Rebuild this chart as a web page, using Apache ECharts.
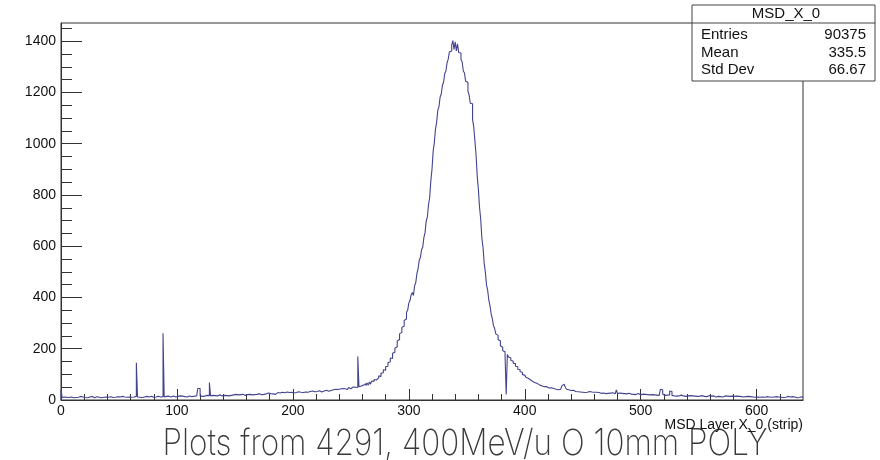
<!DOCTYPE html>
<html><head><meta charset="utf-8">
<script src="https://cdn.jsdelivr.net/npm/echarts@6/dist/echarts.min.js"></script>
<style>html,body{margin:0;padding:0;background:#fff}#c{width:880px;height:460px}</style>
</head><body><div id="c"></div>
<script>
// ---- data: counts per strip (bin width 1, strips 0..639) ----
const xMin = 0, xMax = 640, yMax = 1471;
const countsA = [ // strips 0-199
 40,10,12,9,11,13,10,8,12,11,9,13,10,12,11,9,14,10,12,11,
 10,13,9,11,12,10,14,11,9,12,13,10,11,12,9,13,11,10,12,14,
 11,9,13,12,10,14,11,12,13,10,12,11,14,10,12,13,11,9,12,14,
 11,13,12,10,14,145,12,11,13,10,15,12,11,14,13,12,10,15,13,11,
 14,12,13,15,11,12,14,13,260,12,14,11,15,13,12,14,16,13,12,15,
 14,13,16,12,15,14,13,17,12,15,16,14,13,17,15,14,16,18,45,45,
 16,14,17,15,16,18,14,17,68,16,18,15,17,19,16,18,20,17,16,19,
 18,20,17,19,16,21,18,17,20,19,22,18,20,17,21,19,22,20,18,23,
 21,19,22,24,20,23,21,25,22,20,24,23,21,26,22,25,24,21,27,23,
 25,27,24,28,22,26,29,25,27,24,30,26,28,25,31,27,29,26,30,28
];
const countsB = [ // strips 200-399
 27,31,29,26,32,28,30,33,29,27,31,34,30,28,33,31,35,29,32,34,
 33,30,36,34,31,37,35,33,38,36,34,39,37,35,40,38,42,36,41,39,
 43,40,45,42,44,47,41,46,49,44,48,51,46,50,53,49,170,52,55,50,
 58,52,64,56,66,58,70,62,74,72,80,78,84,86,94,92,104,106,118,116,
 130,132,146,148,164,162,182,186,202,208,230,236,258,264,284,288,310,316,342,350,
 378,388,410,420,408,446,458,494,512,546,556,586,596,634,654,698,714,762,790,856,
 900,970,1004,1056,1084,1130,1144,1182,1194,1228,1240,1274,1284,1316,1330,1358,1362,1386,1402,1368,
 1398,1362,1390,1356,1354,1328,1320,1284,1276,1244,1240,1204,1190,1158,1156,1094,1066,1012,956,874,
 822,752,706,632,596,534,500,450,428,390,368,336,318,290,280,258,252,236,230,212,
 206,192,188,174,22,178,168,164,154,152,144,142,132,130,120,118,110,108,99,97
];
const countsC = [ // strips 400-639
 93,89,85,82,78,76,72,70,67,66,64,60,58,57,55,53,52,50,52,48,
 47,46,48,44,45,43,42,44,40,46,42,48,55,62,66,50,42,40,38,37,
 36,38,34,33,35,32,34,31,33,30,35,29,32,30,28,33,29,31,28,30,
 28,30,27,29,31,26,28,27,30,25,28,26,29,27,25,28,26,24,27,39,
 25,27,24,26,23,25,27,24,22,26,24,23,25,22,24,21,23,25,22,20,
 21,23,20,22,19,21,24,20,18,21,19,20,17,19,21,18,25,42,40,22,
 18,17,19,16,20,35,33,18,16,17,15,18,16,17,19,15,16,18,14,17,
 16,15,17,14,16,18,15,17,14,16,15,13,17,15,14,16,13,15,17,14,
 15,13,16,14,12,15,14,16,13,15,12,14,16,13,15,12,14,13,15,12,
 14,13,15,12,14,11,13,15,12,14,13,11,14,12,13,15,12,14,11,13,
 12,14,11,13,12,14,11,12,13,10,12,14,11,13,12,10,13,11,12,14,
 11,12,10,13,11,12,14,10,12,11,13,10,12,11,9,12,10,11,13,10
];
const xTickLabels = [0, 100, 200, 300, 400, 500, 600];
const yTickLabels = [0, 200, 400, 600, 800, 1000, 1200, 1400];
const statsTitle = 'MSD_X_0';
const statsRows = [['Entries', '90375'], ['Mean', '335.5'], ['Std Dev', '66.67']];
const xTitle = 'MSD Layer X_0 (strip)';
const footer = 'Plots from 4291, 400MeV/u O 10mm POLY';

// ---- build step histogram ----
const counts = countsA.concat(countsB, countsC);
const pts = [[xMin, 0]];
counts.forEach((v, i) => pts.push([xMin + i, v]));
pts.push([xMax, counts[counts.length - 1]]);

const xMinor = [], yMinor = [];
for (let v = 20; v < xMax; v += 20) if (v % 100) xMinor.push(v);
for (let v = 50; v < yMax; v += 50) if (v % 200) yMinor.push(v);

const FONT = 'Liberation Sans';
const axColor = '#333';
const chart = echarts.init(document.getElementById('c'), null, {renderer: 'canvas'});

const FOOT_FONT = '200 36px Inter';
const cv = document.createElement('canvas').getContext('2d');
cv.font = FOOT_FONT;
const fw = cv.measureText(footer).width;
const footScale = 605 / fw;

chart.setOption({
  animation: false,
  backgroundColor: '#fff',
  grid: {left: 61, right: 77, top: 23, bottom: 60, show: true, borderColor: axColor, borderWidth: 1, backgroundColor: 'transparent'},
  xAxis: [{
    type: 'value', min: xMin, max: xMax, position: 'bottom',
    axisLine: {show: true, onZero: false, lineStyle: {color: axColor, width: 1}},
    axisTick: {show: true, inside: true, length: 11, customValues: xTickLabels, lineStyle: {color: axColor}},
    axisLabel: {customValues: xTickLabels, formatter: v => String(v), fontFamily: FONT, fontSize: 14, color: '#111', margin: 4},
    splitLine: {show: false}
  }, {
    type: 'value', min: xMin, max: xMax, position: 'bottom',
    axisLine: {show: false},
    axisTick: {show: true, inside: true, length: 6, customValues: xMinor, lineStyle: {color: axColor}},
    axisLabel: {show: false}, splitLine: {show: false}
  }],
  yAxis: [{
    type: 'value', min: 0, max: yMax, position: 'left',
    axisLine: {show: true, onZero: false, lineStyle: {color: axColor, width: 1}},
    axisTick: {show: true, inside: true, length: 21, customValues: yTickLabels, lineStyle: {color: axColor}},
    axisLabel: {customValues: yTickLabels, formatter: v => String(v), fontFamily: FONT, fontSize: 14, color: '#111', margin: 5},
    splitLine: {show: false}
  }, {
    type: 'value', min: 0, max: yMax, position: 'left',
    axisLine: {show: false},
    axisTick: {show: true, inside: true, length: 11, customValues: yMinor, lineStyle: {color: axColor}},
    axisLabel: {show: false}, splitLine: {show: false}
  }],
  series: [{
    type: 'line', step: 'end', data: pts, xAxisIndex: 0, yAxisIndex: 0,
    showSymbol: false, symbol: 'none',
    lineStyle: {color: '#43438e', width: 1.1}, z: 3
  }],
  graphic: [
    {type: 'rect', z: 100, shape: {x: 692, y: 5, width: 183, height: 76}, style: {fill: '#fff', stroke: '#444', lineWidth: 1}},
    {type: 'line', z: 101, shape: {x1: 692, y1: 23, x2: 875, y2: 23}, style: {stroke: '#444', lineWidth: 1}},
    {type: 'text', z: 102, x: 786, y: 14, style: {text: statsTitle, font: '15px "Liberation Sans"', fill: '#111', align: 'center', verticalAlign: 'middle'}},
    ...statsRows.flatMap((r, i) => [
      {type: 'text', z: 102, x: 701, y: 35 + i * 17.5, style: {text: r[0], font: '15px "Liberation Sans"', fill: '#111', align: 'left', verticalAlign: 'middle'}},
      {type: 'text', z: 102, x: 866, y: 35 + i * 17.5, style: {text: r[1], font: '15px "Liberation Sans"', fill: '#111', align: 'right', verticalAlign: 'middle'}}
    ]),
    {type: 'text', z: 102, x: 803, y: 425, style: {text: xTitle, font: '14px "Liberation Sans"', fill: '#111', align: 'right', verticalAlign: 'middle'}},
    {type: 'text', z: 90, x: 465, y: 444, scaleX: footScale, originX: 0, style: {text: footer, font: FOOT_FONT, fill: '#3a3a3a', align: 'center', verticalAlign: 'middle'}}
  ]
});
</script></body></html>
